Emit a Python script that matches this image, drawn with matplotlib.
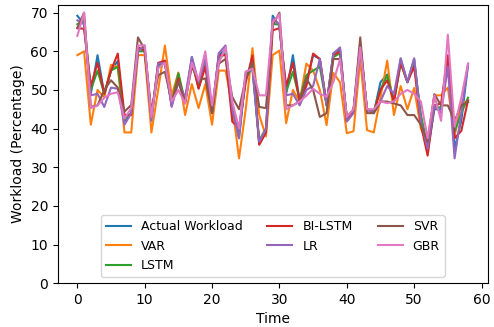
import numpy as np
import matplotlib
matplotlib.use("Agg")
import matplotlib.pyplot as plt

# readings from the reference, t = 0 .. 58
actual = [69.2, 67, 49, 59, 49, 55, 57.5, 42, 44, 61, 60, 43, 56.5, 57, 46, 53, 47, 58.5, 51, 58,
          44, 59, 60.5, 44, 37.5, 54, 55.5, 36, 39, 69.2, 66.5, 49, 59, 47, 52, 59, 58, 46, 59.5, 60.5,
          42, 44.5, 62, 45, 44, 52, 54, 47, 58, 52, 58, 43, 34, 45, 45, 58, 34.8, 42, 56.5]
var = [59, 60, 41, 50, 48, 56.5, 56, 39, 39, 59, 59, 39, 50, 61.5, 48.5, 54.5, 43.5, 51.5, 45.3, 51.5,
       41, 55, 55, 46, 32.3, 45, 60.8, 43.5, 38, 59, 60.2, 41.4, 50, 47, 56.8, 55, 50, 40.9, 54.4, 52,
       38.8, 39.3, 58, 39.6, 39, 48, 57.6, 43.5, 51, 45, 50.5, 40, 36, 48.6, 48.6, 50.6, 38, 46.9, 46.9]
lstm = [67, 68, 50, 55, 49, 55, 56, 42.5, 44, 60, 60, 43, 56, 57, 46.5, 54.3, 47, 57.5, 50.5, 57,
        44.5, 58, 59.5, 45, 39, 53, 56, 37, 40, 67, 67, 49.5, 54.7, 47.5, 53.8, 55, 56, 46, 58.5, 59.5,
        43, 44.5, 61, 45, 44.5, 50, 53.8, 47, 57, 52, 57, 43.5, 35.5, 45.5, 45.5, 57, 39.2, 44, 48]
bilstm = [66, 65.8, 51, 57, 49, 55, 59.4, 43.5, 43.5, 61, 60.2, 43, 57, 57.6, 46, 53, 46.5, 57.5, 50.3, 56,
          44, 59, 59, 41.8, 40.1, 52, 58.9, 35.8, 39, 65.4, 66, 51, 57, 47, 51, 59.4, 58, 46.5, 59, 60,
          42, 44.5, 61.5, 45, 44, 50, 52.5, 47, 57, 52, 56, 41, 33, 46, 46.5, 59, 37.5, 39.4, 47.3]
lr = [68, 67, 48.6, 49, 45.6, 50.6, 50.3, 41, 44, 60, 61.5, 42, 56.8, 57, 45.6, 52, 48, 58.5, 52, 58,
      44, 59.5, 61.5, 45, 37.5, 54.7, 55.5, 36.6, 39.9, 68.5, 67, 48.6, 49, 46, 50, 51, 58, 46, 59.4, 61,
      41.8, 44, 61, 45, 44, 47, 51, 49, 58.2, 52, 58.2, 41.8, 34.8, 46, 44, 56, 32.3, 44, 56.8]
svr = [66, 70, 45.6, 46, 50, 52.5, 50.6, 44.4, 46.1, 63.6, 60.5, 44.4, 53.8, 54.7, 47, 52, 47, 56, 52.5, 53,
       44, 56.8, 58, 48.2, 45, 53, 57.2, 45.6, 45.3, 66.7, 70, 46, 46, 47, 53, 50, 43, 44, 58, 58,
       43, 45, 63.6, 44, 44, 47, 47, 46.5, 46, 43.5, 43.5, 41, 36.6, 48.9, 46, 46, 42, 46, 46.9]
gbr = [64, 70, 45.3, 46, 48, 49, 49.4, 42.6, 45.3, 61.5, 61.5, 43, 55.6, 57, 47, 50, 46.5, 57, 52.5, 60,
       46, 57, 61, 47, 40, 54.7, 55.5, 48.6, 48.6, 67.5, 69.6, 45, 46, 47, 48.5, 50.3, 49, 48.2, 52, 58,
       43, 45, 61, 45, 45, 47, 46.6, 47, 49, 50, 49, 47, 37.5, 48.6, 42, 64.3, 40.5, 48, 56.8]

series = [("Actual Workload", actual), ("VAR", var), ("LSTM", lstm), ("BI-LSTM", bilstm),
          ("LR", lr), ("SVR", svr), ("GBR", gbr)]

fig = plt.figure(figsize=(4.94, 3.27), dpi=100)
ax = fig.add_axes([0.117, 0.134, 0.870, 0.851])

t = np.arange(len(actual))
for name, vals in series:
    ax.plot(t, vals, label=name)

ax.set_ylim(0, 72)
ax.set_xlabel("Time")
ax.set_ylabel("Workload (Percentage)")
ax.legend(loc="lower center", ncol=3, fontsize=9)

fig.savefig("out.png", dpi=100)
